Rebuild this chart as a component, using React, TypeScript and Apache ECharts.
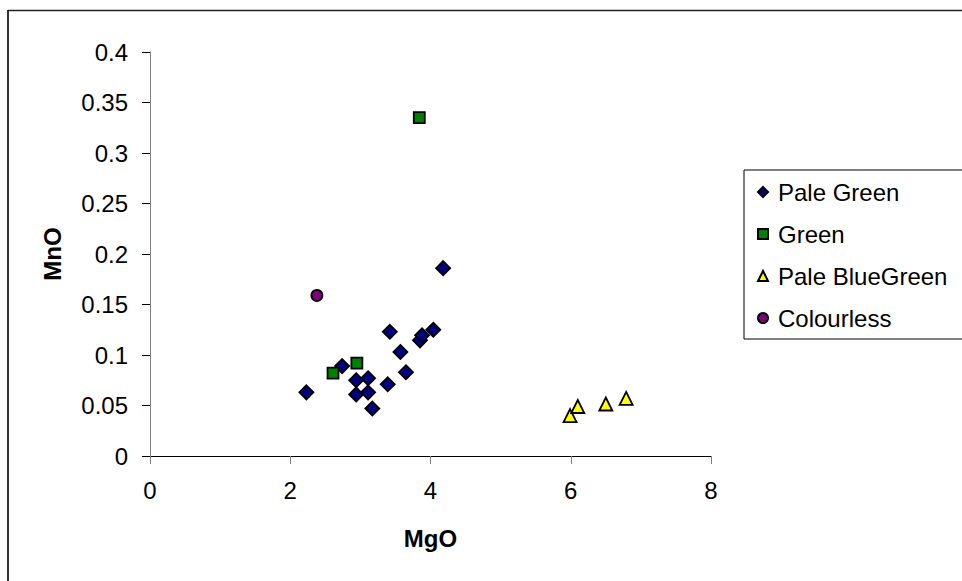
import React, { useEffect, useRef } from "react";
import * as echarts from "echarts";

const seriesNames = ["Pale Green", "Green", "Pale BlueGreen", "Colourless"];

const paleGreenMgO = [2.23, 2.74, 2.94, 2.94, 3.11, 3.11, 3.17, 3.39, 3.42, 3.57, 3.65, 3.85, 3.88, 4.04, 4.18];
const paleGreenMnO = [0.063, 0.089, 0.075, 0.061, 0.077, 0.063, 0.047, 0.071, 0.123, 0.103, 0.083, 0.1145, 0.1195, 0.125, 0.186];

const greenMgO = [2.61, 2.95, 3.84];
const greenMnO = [0.082, 0.092, 0.335];

const paleBlueGreenMgO = [5.99, 6.1, 6.5, 6.79];
const paleBlueGreenMnO = [0.04, 0.049, 0.0515, 0.057];

const colourlessMgO = [2.38];
const colourlessMnO = [0.159];

const FONT = "Arial, 'Liberation Sans', sans-serif";

const zip = (xs: number[], ys: number[]) => xs.map((x, i) => [x, ys[i]]);

export default function App() {
  const ref = useRef<HTMLDivElement>(null);

  useEffect(() => {
    if (!ref.current) return;
    const chart = echarts.init(ref.current, undefined, { renderer: "svg" });
    const border = { borderColor: "#000", borderWidth: 1.8, opacity: 1 };
    chart.setOption({
      animation: false,
      backgroundColor: "#fff",
      textStyle: { fontFamily: FONT },
      grid: { left: 150, top: 52, width: 561, height: 404 },
      xAxis: {
        type: "value",
        min: 0,
        max: 8,
        interval: 2,
        name: "MgO",
        nameLocation: "middle",
        nameGap: 70,
        nameTextStyle: { fontFamily: FONT, fontSize: 24, fontWeight: "bold", color: "#000" },
        axisLine: { show: true, onZero: false, lineStyle: { color: "#000", width: 1 } },
        axisTick: { show: true, length: 8, lineStyle: { color: "#808080", width: 1 } },
        axisLabel: { fontFamily: FONT, fontSize: 24, color: "#000", margin: 22 },
        splitLine: { show: false },
      },
      yAxis: {
        type: "value",
        min: 0,
        max: 0.4,
        interval: 0.05,
        name: "MnO",
        nameLocation: "middle",
        nameGap: 86,
        nameTextStyle: { fontFamily: FONT, fontSize: 24, fontWeight: "bold", color: "#000" },
        axisLine: { show: true, onZero: false, lineStyle: { color: "#808080", width: 1 } },
        axisTick: { show: true, length: 8, lineStyle: { color: "#000", width: 1 } },
        axisLabel: { fontFamily: FONT, fontSize: 24, color: "#000", margin: 22 },
        splitLine: { show: false },
      },
      legend: {
        orient: "vertical",
        left: 744,
        top: 170,
        padding: [10, 60, 9, 13],
        itemGap: 18,
        itemWidth: 10,
        itemHeight: 10,
        borderColor: "#000",
        borderWidth: 1,
        backgroundColor: "#fff",
        textStyle: { fontFamily: FONT, fontSize: 24, lineHeight: 24, color: "#000", padding: [0, 0, 0, 5] },
        data: seriesNames,
      },
      graphic: [
        { type: "line", shape: { x1: 8, y1: 10, x2: 8, y2: 600 }, style: { stroke: "#333", lineWidth: 2 }, silent: true },
        { type: "line", shape: { x1: 8, y1: 10.5, x2: 970, y2: 10.5 }, style: { stroke: "#222", lineWidth: 1.5 }, silent: true },
      ],
      series: [
        {
          name: seriesNames[0],
          type: "scatter",
          symbol: "diamond",
          symbolSize: 14,
          itemStyle: { color: "#000080", ...border },
          data: zip(paleGreenMgO, paleGreenMnO),
        },
        {
          name: seriesNames[1],
          type: "scatter",
          symbol: "rect",
          symbolSize: 11,
          itemStyle: { color: "#008000", ...border },
          data: zip(greenMgO, greenMnO),
        },
        {
          name: seriesNames[2],
          type: "scatter",
          symbol: "triangle",
          symbolSize: 13,
          itemStyle: { color: "#FFFF00", ...border },
          data: zip(paleBlueGreenMgO, paleBlueGreenMnO),
        },
        {
          name: seriesNames[3],
          type: "scatter",
          symbol: "circle",
          symbolSize: 11,
          itemStyle: { color: "#800080", ...border },
          data: zip(colourlessMgO, colourlessMnO),
        },
      ],
    });
    return () => chart.dispose();
  }, []);

  return (
    <div
      ref={ref}
      style={{ position: "fixed", left: 0, top: 0, width: 962, height: 581, background: "#fff" }}
    />
  );
}
